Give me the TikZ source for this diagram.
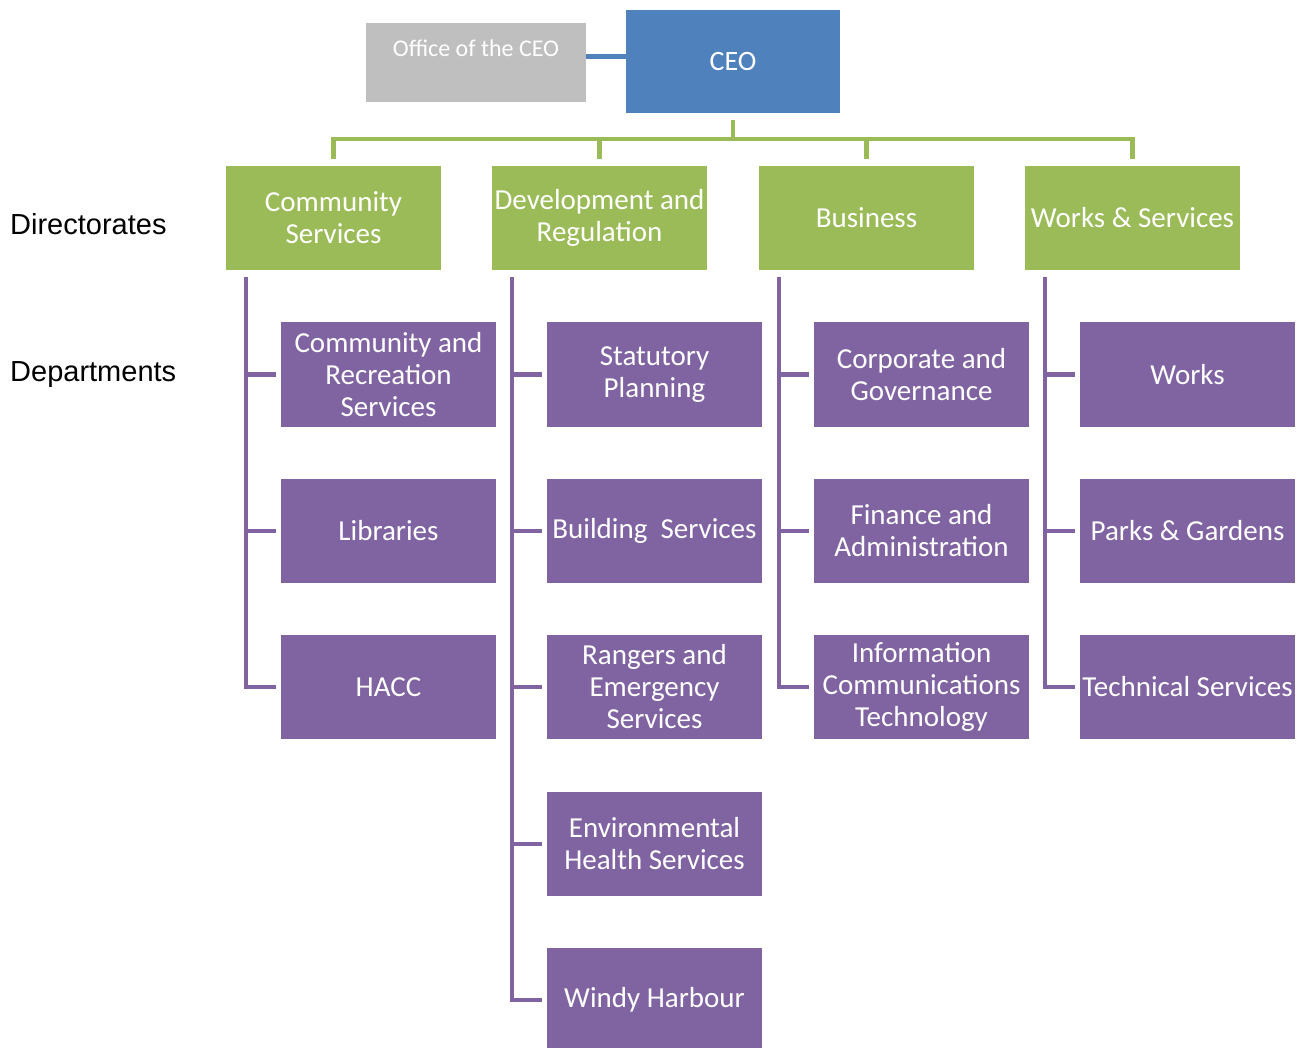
\documentclass[tikz,border=0pt]{standalone}
\usepackage{fontspec}
\setmainfont{Carlito}
\newfontfamily\arialfont{Liberation Sans}
\definecolor{ceoblue}{HTML}{4F81BD}
\definecolor{officegray}{HTML}{BFBFBF}
\definecolor{dirgreen}{HTML}{9BBB59}
\definecolor{deptpurple}{HTML}{8064A2}
\tikzset{
  officebox/.style={fill=officegray, text=white, minimum width=220pt, minimum height=79pt,
    inner sep=0pt, text height=20pt, text depth=31pt, font=\fontsize{24}{28}\selectfont},
  ceobox/.style={fill=ceoblue, text=white, minimum width=214pt, minimum height=103pt,
    inner sep=0pt, font=\fontsize{28}{32}\selectfont},
  dirbox/.style={fill=dirgreen, text=white, minimum width=215pt, minimum height=104pt,
    inner sep=0pt, align=center, font=\fontsize{29}{32}\selectfont},
  deptbox/.style={fill=deptpurple, text=white, minimum width=215pt, minimum height=104.5pt,
    inner sep=0pt, align=center, font=\fontsize{29}{32}\selectfont},
  sidelabel/.style={anchor=base west, inner sep=0pt, font=\arialfont\fontsize{29}{32}\selectfont},
  blueline/.style={draw=ceoblue, line width=4.5pt},
  greenline/.style={draw=dirgreen, line width=4.5pt},
  purpleline/.style={draw=deptpurple, line width=4.5pt},
}
\begin{document}
\begin{tikzpicture}[x=1pt, y=-1pt]
  \useasboundingbox (0,0) rectangle (1306,1048);
  % top level
  \node[officebox] (office) at (476,62.5) {Office of the CEO};
  \node[ceobox] (ceo) at (733,61.5) {CEO};
  \draw[blueline] ([yshift=6pt]office.east) -- ([yshift=6pt]office.east -| ceo.west);
  % directorates
  \foreach \name/\x/\txt in {cs/333.5/{Community\\Services}, dr/599.5/{Development and\\Regulation},
      bu/866.5/Business, ws/1132.5/{Works \& Services}}
    \node[dirbox] (\name) at (\x,218) {\txt};
  \coordinate (ceobus) at ([yshift=-26pt]ceo.south);
  \draw[greenline, shorten <=7pt] (ceo.south) -- (ceobus);
  \foreach \name in {cs,dr,bu,ws}
    \draw[greenline, shorten >=7pt] (ceobus) -| (\name.north);
  % departments
  \foreach \name/\x/\y/\txt in {
      cs1/388.5/374.5/{Community and\\Recreation\\Services}, cs2/388.5/531/Libraries, cs3/388.5/687/HACC,
      dr1/654.5/374.5/{Statutory\\Planning}, dr2/654.5/531/{Building~\ Services},
      dr3/654.5/687/{Rangers and\\Emergency\\Services}, dr4/654.5/844/{Environmental\\Health Services},
      dr5/654.5/1000/{Windy Harbour},
      bu1/921.5/374.5/{Corporate and\\Governance}, bu2/921.5/531/{Finance and\\Administration},
      bu3/921.5/687/{Information\\Communications\\Technology},
      ws1/1187.5/374.5/Works, ws2/1187.5/531/{Parks \& Gardens}, ws3/1187.5/687/{Technical Services}}
    \node[deptbox] (\name) at (\x,\y) {\txt};
  % spines and branches
  \foreach \dir/\last in {cs/cs3, dr/dr5, bu/bu3, ws/ws3}{
    \coordinate (\dir-spine) at ([xshift=20pt, yshift=-7pt]\dir.south west);
    \draw[purpleline, shorten >=5pt] (\dir-spine) |- (\last.west);
  }
  \foreach \dir/\dept in {cs/cs1, cs/cs2, dr/dr1, dr/dr2, dr/dr3, dr/dr4,
      bu/bu1, bu/bu2, ws/ws1, ws/ws2}
    \draw[purpleline, shorten >=5pt] (\dept.west -| \dir-spine) -- (\dept.west);
  % row labels
  \node[sidelabel] (dirlabel) at (10,234.5) {Directorates};
  \node[sidelabel] (deptlabel) at (10,381.5) {Departments};
\end{tikzpicture}
\end{document}
